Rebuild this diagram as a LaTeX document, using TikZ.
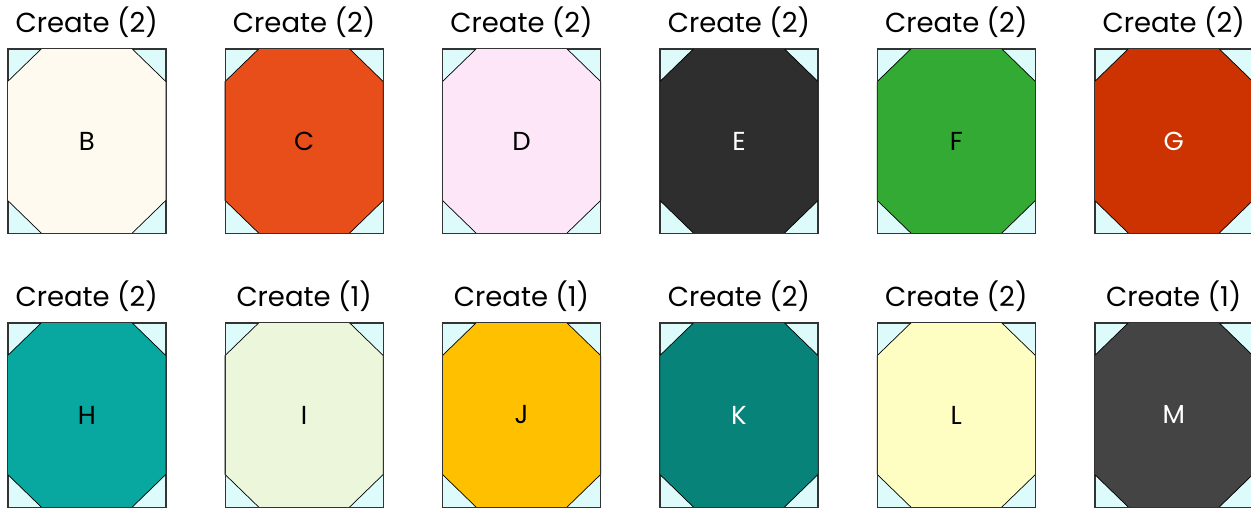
\documentclass[tikz,border=0pt]{standalone}
\usepackage{fontspec}
\setmainfont{Poppins}
\usetikzlibrary{positioning,calc}

\definecolor{cornercyan}{HTML}{DDFBFB}
\definecolor{fillB}{HTML}{FFFAF0}
\definecolor{fillC}{HTML}{E84E1A}
\definecolor{fillD}{HTML}{FDE6F8}
\definecolor{fillE}{HTML}{2E2E2E}
\definecolor{fillF}{HTML}{33AA33}
\definecolor{fillG}{HTML}{CC3300}
\definecolor{fillH}{HTML}{08A8A0}
\definecolor{fillI}{HTML}{EBF6DA}
\definecolor{fillJ}{HTML}{FFC000}
\definecolor{fillK}{HTML}{078379}
\definecolor{fillL}{HTML}{FFFEC2}
\definecolor{fillM}{HTML}{444444}

\tikzset{
  tilebox/.style={draw=black!80, fill=cornercyan, line width=0.8pt, inner sep=0pt,
    minimum width=157.5pt, minimum height=184pt},
  tileletter/.style={font=\fontsize{26}{30}\selectfont, inner sep=0pt},
  countlabel/.style={font=\fontsize{27.5}{32}\selectfont, inner sep=0pt, anchor=base}
}

\begin{document}
\begin{tikzpicture}[x=1pt, y=-1pt]
\useasboundingbox (0,0) rectangle (1251,508);

% one tile per letter: column, row, fill, text colour, count
\foreach \nm/\cx/\cy/\fc/\tc/\n in {
    B/0/0/fillB/black/2, C/1/0/fillC/black/2, D/2/0/fillD/black/2,
    E/3/0/fillE/white/2, F/4/0/fillF/black/2, G/5/0/fillG/white/2,
    H/0/1/fillH/black/2, I/1/1/fillI/black/1, J/2/1/fillJ/black/1,
    K/3/1/fillK/white/2, L/4/1/fillL/black/2, M/5/1/fillM/white/1} {
  \node[tilebox] (\nm) at (86.75+217.4*\cx, 141+274*\cy) {};
  \filldraw[fill=\fc, draw=black, line width=0.7pt]
    ($(\nm.north west)+(34,0)$) -- ($(\nm.north east)+(-34,0)$)
    -- ($(\nm.north east)+(0,33)$) -- ($(\nm.south east)+(0,-33)$)
    -- ($(\nm.south east)+(-34,0)$) -- ($(\nm.south west)+(34,0)$)
    -- ($(\nm.south west)+(0,-33)$) -- ($(\nm.north west)+(0,33)$) -- cycle;
  \draw[black!80, line width=0.8pt] (\nm.north west) rectangle (\nm.south east);
  \node[tileletter, text=\tc] (\nm-txt) at (\nm) {\nm};
  \node[countlabel] (\nm-cnt) at ($(\nm.north)+(0,-16)$) {Create (\n)};
}
\end{tikzpicture}
\end{document}
